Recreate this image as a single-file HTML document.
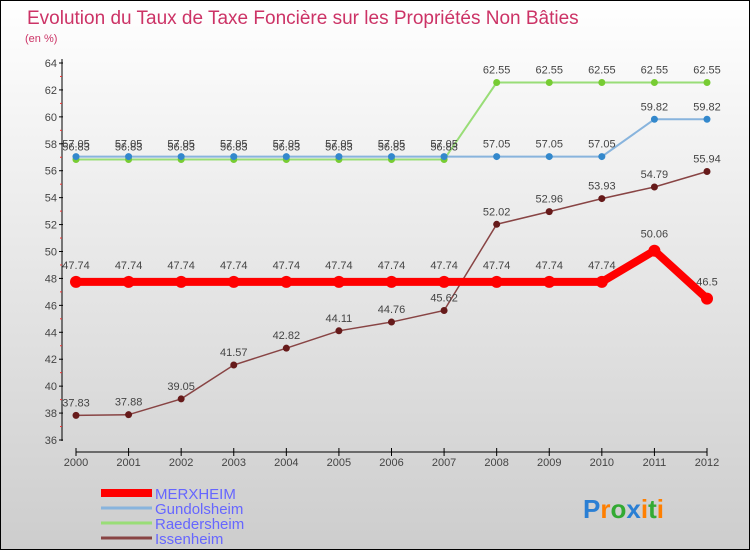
<!DOCTYPE html>
<html><head><meta charset="utf-8"><style>
body{margin:0}
#c{width:748px;height:548px;border:1px solid #000;background:linear-gradient(#ffffff,#f0f0f0 30%,#cdcdcd);position:relative;font-family:"Liberation Sans",sans-serif}
</style></head><body>
<div id="c">
<svg id="s" width="748" height="548" style="position:absolute;left:0;top:0">
<text x="26" y="23" font-size="19" fill="#cc3366">Evolution du Taux de Taxe Foncière sur les Propriétés Non Bâties</text>
<text x="24" y="41" font-size="11" fill="#cc3366">(en %)</text>
<g id="axes"></g><g id="series"></g><g id="legend"></g>
<text x="582" y="517" font-size="26" font-weight="bold"><tspan fill="#2a7fd4">P</tspan><tspan fill="#ff7f00">r</tspan><tspan fill="#33aa33">o</tspan><tspan fill="#2a7fd4">x</tspan><tspan fill="#ff7f00">i</tspan><tspan fill="#33aa33">t</tspan><tspan fill="#ff7f00">i</tspan></text>
</svg>
</div>
<script>
const years=[2000,2001,2002,2003,2004,2005,2006,2007,2008,2009,2010,2011,2012];
const yTicks=[36,38,40,42,44,46,48,50,52,54,56,58,60,62,64];
const merxheim=[47.74,47.74,47.74,47.74,47.74,47.74,47.74,47.74,47.74,47.74,47.74,50.06,46.5];
const gundolsheim=[57.05,57.05,57.05,57.05,57.05,57.05,57.05,57.05,57.05,57.05,57.05,59.82,59.82];
const raedersheim=[56.83,56.83,56.83,56.83,56.83,56.83,56.83,56.83,62.55,62.55,62.55,62.55,62.55];
const issenheim=[37.83,37.88,39.05,41.57,42.82,44.11,44.76,45.62,52.02,52.96,53.93,54.79,55.94];
const seriesNames=["Raedersheim","Gundolsheim","Issenheim","MERXHEIM"];
const NS="http://www.w3.org/2000/svg";
const X=i=>75+i*(706-75)/12;
const Y=v=>439-(v-36)*(439-62)/28;
function mk(t,a,p){const e=document.createElementNS(NS,t);for(const k in a)e.setAttribute(k,a[k]);p.appendChild(e);return e;}
const ax=document.getElementById('axes');
let l=mk('line',{x1:61,y1:58,x2:61,y2:440,stroke:'#000'},ax);

l=mk('line',{x1:75,y1:451,x2:706,y2:451,stroke:'#000'},ax);

yTicks.forEach(v=>{mk('line',{x1:58,y1:Y(v),x2:62,y2:Y(v),stroke:'#000'},ax);
 const t=mk('text',{x:56,y:Y(v)+4,'font-size':11,'text-anchor':'end',fill:'#444'},ax);t.textContent=v;
 
 if(v<64)mk('line',{x1:59,y1:Y(v+1),x2:61,y2:Y(v+1),stroke:'#e33'},ax);});
years.forEach((yr,i)=>{mk('line',{x1:X(i),y1:447,x2:X(i),y2:455,stroke:'#000'},ax);
 const t=mk('text',{x:X(i),y:465,'font-size':11,'text-anchor':'middle',fill:'#444'},ax);t.textContent=yr;
 });
const sg=document.getElementById('series');
function draw(name,data,col,dot,w,r,above){
 const g=mk('g',{},sg);
 mk('polyline',{points:data.map((v,i)=>X(i)+','+Y(v)).join(' '),fill:'none',stroke:col,'stroke-width':w},g);
 data.forEach((v,i)=>{const c=mk('circle',{cx:X(i),cy:Y(v),r:r,fill:dot},g);
  
  const t=mk('text',{x:X(i),y:Y(v)-(above||9),'font-size':11,'text-anchor':'middle',fill:'#444'},g);t.textContent=v;
  });
}
draw('Raedersheim',raedersheim,'#99dd77','#77cc33',2,3.5);
draw('Gundolsheim',gundolsheim,'#88b4dd','#3388cc',2,3.5);
draw('Issenheim',issenheim,'#884444','#661a1a',1.5,3.5);
draw('MERXHEIM',merxheim,'#ff0000','#ff0000',8,6,13);
const lg=document.getElementById('legend');
[['MERXHEIM','#ff0000',8],['Gundolsheim','#88b4dd',3],['Raedersheim','#99dd77',3],['Issenheim','#884444',3]].forEach((e,i)=>{
 const y=492+i*15;
 const g=mk('g',{},lg);
 mk('line',{x1:100,y1:y,x2:151,y2:y,stroke:e[1],'stroke-width':e[2]},g);
 const t=mk('text',{x:154,y:y+6,'font-size':15,fill:'#6666ff'},g);t.textContent=e[0];});
</script>
</body></html>
